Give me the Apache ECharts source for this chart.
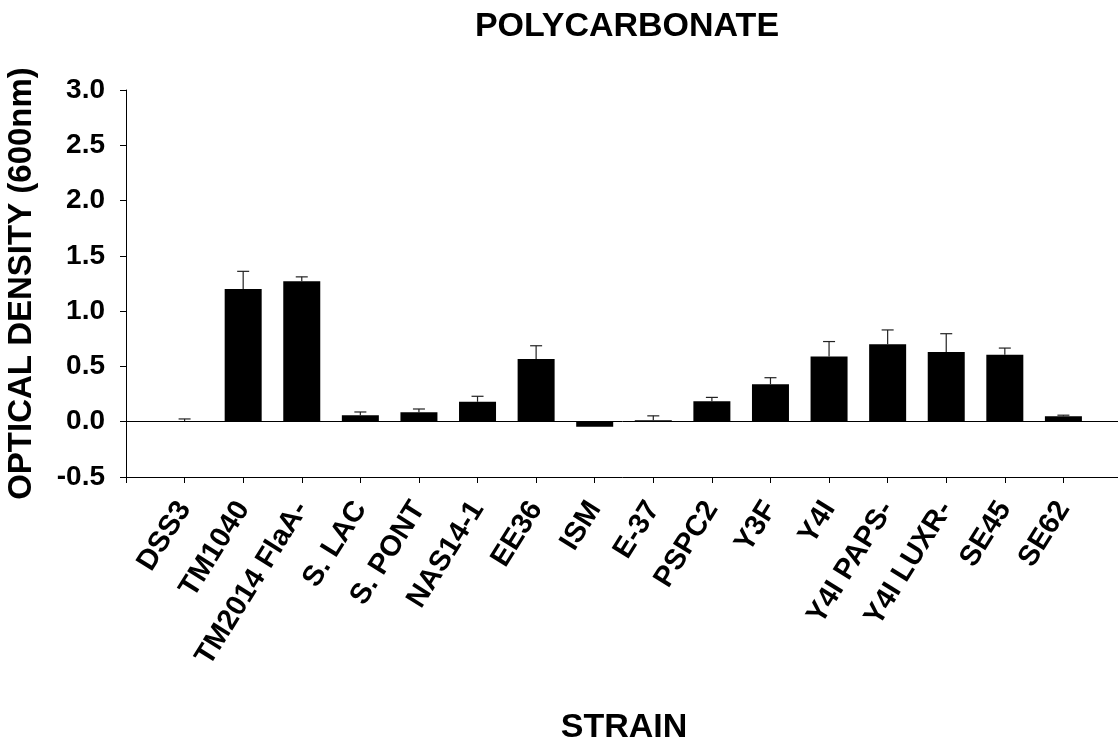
<!DOCTYPE html>
<html>
<head>
<meta charset="utf-8">
<title>POLYCARBONATE</title>
<script src="https://cdn.jsdelivr.net/npm/echarts@6/dist/echarts.min.js"></script>
<style>
  html, body { margin: 0; padding: 0; background: #ffffff; }
  #chart { width: 1118px; height: 744px; }
</style>
</head>
<body>
<div id="chart"></div>
<script>
// Strains tested on polycarbonate
const strains = ['DSS3', 'TM1040', 'TM2014 FlaA-', 'S. LAC', 'S. PONT', 'NAS14-1', 'EE36', 'ISM',
                 'E-37', 'PSPC2', 'Y3F', 'Y4I', 'Y4I PAPS-', 'Y4I LUXR-', 'SE45', 'SE62'];
// Mean optical density at 600 nm
const meanOD = [0.005, 1.20, 1.27, 0.058, 0.085, 0.18, 0.567, -0.045,
                0.013, 0.184, 0.338, 0.59, 0.70, 0.63, 0.606, 0.049];
// Upper error (standard deviation)
const errOD = [0.02, 0.16, 0.04, 0.03, 0.03, 0.05, 0.12, 0,
               0.04, 0.036, 0.06, 0.135, 0.13, 0.166, 0.06, 0.01];
// Y axis tick range
const yTicks = { min: -0.5, max: 3.0, step: 0.5 };

const FONT = "'Liberation Sans', Arial, Helvetica, sans-serif";

// Strains sit at positions 1..N on a numeric axis that spans 0..N+1
const barData = meanOD.map((v, i) => [i + 1, v]);
const errData = meanOD.map((v, i) => [i + 1, v, errOD[i]]);

const chart = echarts.init(document.getElementById('chart'), null, { renderer: 'canvas' });

chart.setOption({
  animation: false,
  backgroundColor: '#ffffff',
  title: {
    text: 'POLYCARBONATE',
    left: 622,
    textAlign: 'center',
    top: 5,
    textStyle: { fontFamily: FONT, fontWeight: 'bold', fontSize: 34, color: '#000' }
  },
  grid: {
    left: 126, top: 90, width: 996, height: 387,
    containLabel: false,
    outerBoundsMode: 'none'
  },
  xAxis: {
    type: 'value',
    min: 0,
    max: strains.length + 1,
    interval: 1,
    name: 'STRAIN',
    nameLocation: 'middle',
    nameGap: 234,
    nameTextStyle: { fontFamily: FONT, fontWeight: 'bold', fontSize: 34, color: '#000' },
    axisLine: { show: true, onZero: false, lineStyle: { color: '#000', width: 1 } },
    axisTick: { show: true, inside: false, length: 6, lineStyle: { color: '#000', width: 1 } },
    axisLabel: {
      rotate: 58,
      margin: 27,
      fontFamily: FONT,
      fontWeight: 'bold',
      fontSize: 29,
      color: '#000',
      showMinLabel: true,
      showMaxLabel: true,
      formatter: v => {
        const idx = Math.round(v) - 1;
        return idx >= 0 && idx < strains.length ? strains[idx] : '';
      }
    },
    splitLine: { show: false }
  },
  yAxis: {
    type: 'value',
    min: yTicks.min,
    max: yTicks.max,
    interval: yTicks.step,
    name: 'OPTICAL DENSITY (600nm)',
    nameLocation: 'middle',
    nameRotate: 90,
    nameGap: 88,
    nameTextStyle: { fontFamily: FONT, fontWeight: 'bold', fontSize: 33, color: '#000' },
    axisLine: { show: true, onZero: false, lineStyle: { color: '#000', width: 1 } },
    axisTick: { show: true, inside: false, length: 6, lineStyle: { color: '#000', width: 1 } },
    axisLabel: {
      margin: 21,
      fontFamily: FONT,
      fontWeight: 'bold',
      fontSize: 28,
      color: '#000',
      formatter: v => v.toFixed(1)
    },
    splitLine: { show: false }
  },
  series: [
    {
      type: 'bar',
      data: barData,
      barWidth: 37,
      itemStyle: { color: '#000' },
      markLine: {
        silent: true,
        symbol: ['none', 'none'],
        label: { show: false },
        lineStyle: { color: '#000', width: 1, type: 'solid' },
        data: [{ yAxis: 0 }]
      },
      z: 2
    },
    {
      // Upper error whiskers with caps
      type: 'custom',
      data: errData,
      z: 3,
      renderItem: (params, api) => {
        const x = api.value(0), m = api.value(1), e = api.value(2);
        if (!e) return null;
        const base = api.coord([x, m]);
        const top = api.coord([x, m + e]);
        const half = 6;
        const style = { stroke: '#222', lineWidth: 1.2 };
        return {
          type: 'group',
          children: [
            { type: 'line', shape: { x1: base[0], y1: base[1], x2: top[0], y2: top[1] }, style },
            { type: 'line', shape: { x1: top[0] - half, y1: top[1], x2: top[0] + half, y2: top[1] }, style }
          ]
        };
      }
    }
  ]
});
</script>
</body>
</html>
